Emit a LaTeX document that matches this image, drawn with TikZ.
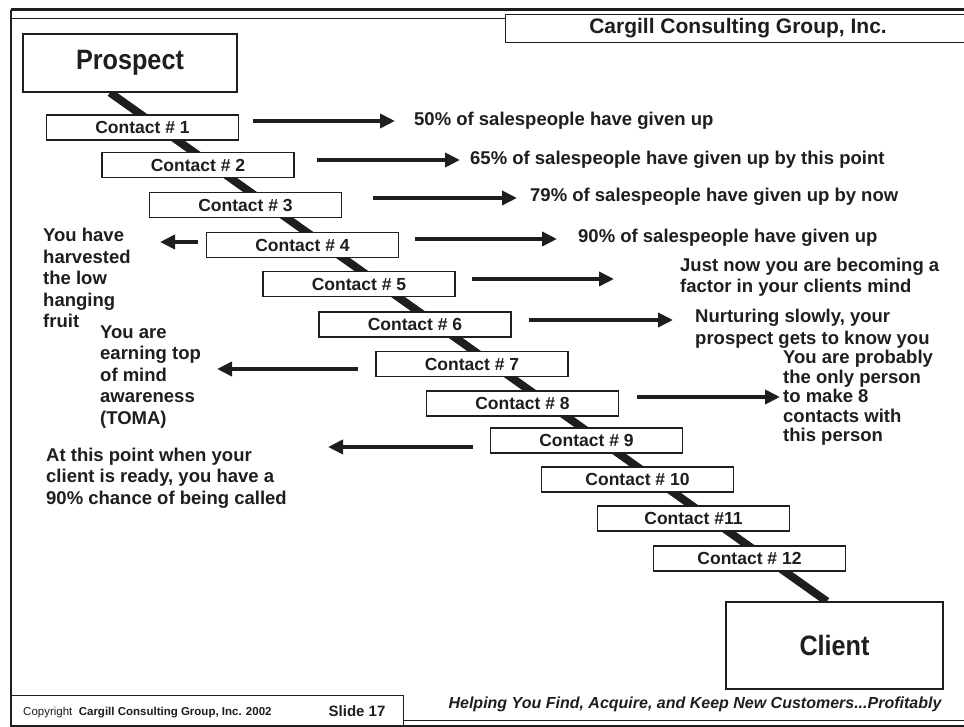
\documentclass[tikz,border=0pt]{standalone}
\usepackage{fontspec}
\setmainfont{Liberation Sans}
\newfontfamily\narrowsans[FakeStretch=0.9]{Liberation Sans}
\usetikzlibrary{arrows.meta,calc}
\pgfdeclarelayer{paper}
\pgfdeclarelayer{background}
\pgfsetlayers{paper,background,main}
\definecolor{ink}{HTML}{1E1E1E}
\newcommand\txtsize[2]{\fontsize{#1}{#2}\selectfont}

\begin{document}
\begin{tikzpicture}[x=1pt,y=-1pt,
  rule/.style={draw=ink, line width=1pt},
  heavyrule/.style={draw=ink, line width=3pt},
  bigbox/.style={draw=ink, line width=1.2pt, fill=white, inner sep=0pt,
    font=\narrowsans\bfseries\txtsize{28}{32}, text=ink},
  contactbox/.style={draw=ink, line width=1.1pt, fill=white, inner sep=0pt,
    minimum width=192pt, minimum height=25pt,
    font=\bfseries\txtsize{17.5}{20}, text=ink},
  note/.style={anchor=west, align=left, inner sep=0pt, text=ink,
    font=\bfseries\txtsize{18.5}{21.5}},
  arr/.style={draw=ink, line width=4pt, -{Triangle[length=15pt,width=14pt]}},
  pipe/.style={draw=ink, line width=8pt}
]
\useasboundingbox (0,0) rectangle (964,727);
\begin{pgfonlayer}{paper}
\fill[white] (0,0) rectangle (964,727);
\end{pgfonlayer}

% page frame and header
\draw[heavyrule] (11,10) -- (964,10);
\draw[rule, line width=1.6pt] (11,10) -- (11,727);
\draw[rule] (11,19) -- (505,19);
\draw[rule] (964,15) -- (505,15) -- (505,43) -- (964,43);
\node[font=\bfseries\txtsize{21}{24}, text=ink] (brand) at (738,28) {Cargill Consulting Group, Inc.};

% footer
\draw[rule] (11,695) -- (403,695) -- (403,727);
\draw[rule] (403,720) -- (964,720);
\draw[heavyrule] (11,726) -- (964,726);
\node[anchor=west, inner sep=0pt, text=ink, font=\txtsize{11.5}{13}] (copy) at (23,713)
  {Copyright\ \ \textbf{Cargill Consulting Group, Inc. 2002}};
\node[font=\bfseries\txtsize{15}{17}, text=ink] (slide) at (357,711) {Slide 17};
\node[font=\bfseries\itshape\txtsize{16}{18}, text=ink] (motto) at (695,704)
  {Helping You Find, Acquire, and Keep New Customers...Profitably};

% end points
\node[bigbox, minimum width=214pt, minimum height=58pt] (prospect) at (130,63) {Prospect};
\node[bigbox, minimum width=217pt, minimum height=87pt] (client) at (834.5,645.5) {Client};

% the twelve contacts
\node[contactbox] (c1)  at (142.5,127.5) {Contact \# 1};
\node[contactbox] (c2)  at (198,165)     {Contact \# 2};
\node[contactbox] (c3)  at (245.5,205)   {Contact \# 3};
\node[contactbox] (c4)  at (302.5,245)   {Contact \# 4};
\node[contactbox] (c5)  at (359,284)     {Contact \# 5};
\node[contactbox] (c6)  at (415,324.5)   {Contact \# 6};
\node[contactbox] (c7)  at (472,364)     {Contact \# 7};
\node[contactbox] (c8)  at (522.5,403.5) {Contact \# 8};
\node[contactbox] (c9)  at (586.5,440.5) {Contact \# 9};
\node[contactbox] (c10) at (637.5,479.5) {Contact \# 10};
\node[contactbox] (c11) at (693.5,518.5) {Contact \#11};
\node[contactbox] (c12) at (749.5,558.5) {Contact \# 12};

% path from prospect to client, behind the contacts
\begin{pgfonlayer}{background}
\draw[pipe] ($(prospect.south west)!0.407!(prospect.south east)$)
  -- ($(client.north west)!0.465!(client.north east)$);
\end{pgfonlayer}

% remarks
\node[note] (t1) at (414,121) {50\% of salespeople have given up};
\node[note] (t2) at (470,160) {65\% of salespeople have given up by this point};
\node[note] (t3) at (530,197) {79\% of salespeople have given up by now};
\node[note] (t4) at (578,238) {90\% of salespeople have given up};
\node[note] (t5) at (680,277) {Just now you are becoming a\\factor in your clients mind};
\node[note] (t6) at (695,329) {Nurturing slowly, your\\prospect gets to know you};
\node[note, font=\bfseries\txtsize{18.5}{19.5}] (t8) at (783,398)
  {You are probably\\the only person\\to make 8\\contacts with\\this person};
\node[note] (l4) at (43,278) {You have\\harvested\\the low\\hanging\\fruit};
\node[note] (l7) at (100,377) {You are\\earning top\\of mind\\awareness\\(TOMA)};
\node[note] (l9) at (46,478) {At this point when your\\client is ready, you have a\\90\% chance of being called};

% arrow end points
\coordinate (r1a) at (253,121); \coordinate (r1b) at (395,121);
\coordinate (r2a) at (317,160); \coordinate (r2b) at (460,160);
\coordinate (r3a) at (373,198); \coordinate (r3b) at (517,198);
\coordinate (r4a) at (415,239); \coordinate (r4b) at (557,239);
\coordinate (r5a) at (472,279); \coordinate (r5b) at (614,279);
\coordinate (r6a) at (529,320); \coordinate (r6b) at (673,320);
\coordinate (r8a) at (637,397); \coordinate (r8b) at (780,397);
\coordinate (q4a) at (198,242); \coordinate (q4b) at (160,242);
\coordinate (q7a) at (358,369); \coordinate (q7b) at (217,369);
\coordinate (q9a) at (473,447); \coordinate (q9b) at (328,447);

\foreach \p in {r1,r2,r3,r4,r5,r6,r8,q4,q7,q9}
  \draw[arr] (\p a) -- (\p b);
\end{tikzpicture}
\end{document}
